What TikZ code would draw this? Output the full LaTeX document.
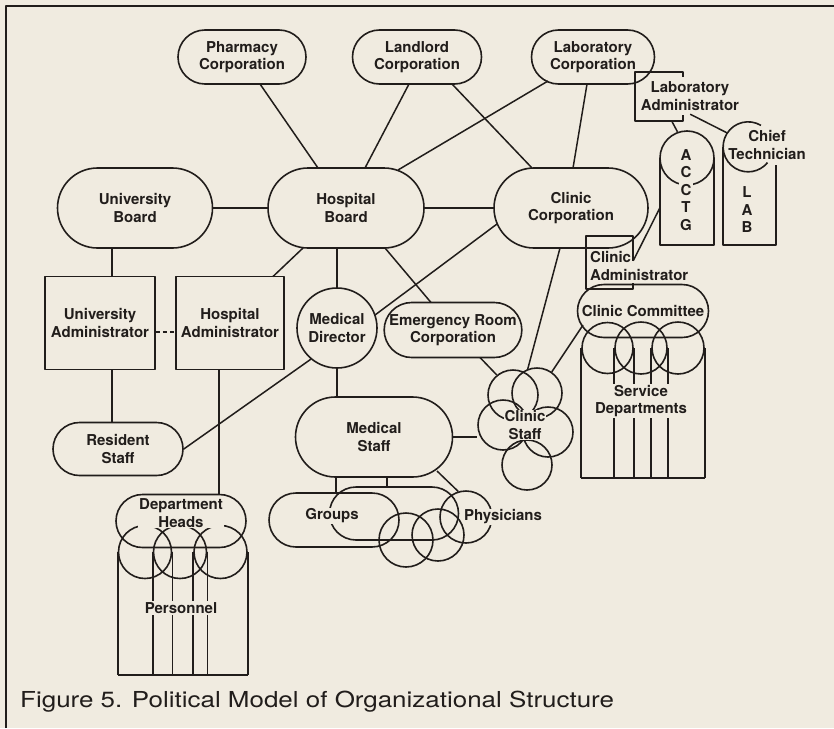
\documentclass[tikz,border=0pt]{standalone}
\usepackage{graphicx}
\usepackage{fontspec}
\setmainfont{TeX Gyre Heros}
\usetikzlibrary{shapes.misc,calc}
\definecolor{paper}{RGB}{240,235,224}
\definecolor{ink}{RGB}{33,29,27}
\begin{document}
\begin{tikzpicture}[x=1pt,y=-1pt,line join=round,
  every node/.style={font=\fontsize{15}{17.5}\selectfont\bfseries,text=ink},
  stad/.style={rounded rectangle,draw=ink,line width=1.6pt,inner sep=0pt,align=center},
  boxnode/.style={rectangle,draw=ink,line width=1.6pt,inner sep=0pt,align=center},
  ring/.style={circle,draw=ink,line width=1.6pt,inner sep=0pt},
  ghost/.style={inner sep=0pt,draw=none},
  knock/.style={fill=paper,inner sep=1pt,align=center},
  plain/.style={inner sep=1pt,align=center},
  link/.style={draw=ink,line width=1.5pt},
  wall/.style={draw=ink,line width=1.6pt}]

% paper and frame
\fill[paper] (0,0) rectangle (834,728);
\useasboundingbox (0,0) rectangle (834,728);
\draw[ink,line width=2.4pt] (6,728) -- (6,6) -- (834,6);

% corporations and boards
\node[stad,minimum width=128pt,minimum height=54pt] (ph) at (242,57) {Pharmacy\\Corporation};
\node[stad,minimum width=129pt,minimum height=54pt] (ll) at (417,57) {Landlord\\Corporation};
\node[stad,minimum width=123pt,minimum height=54pt] (lc) at (593,57) {Laboratory\\Corporation};
\node[stad,minimum width=155pt,minimum height=80pt] (ub) at (135,208) {University\\Board};
\node[stad,minimum width=156pt,minimum height=80pt] (hb) at (346,208) {Hospital\\Board};
\node[stad,minimum width=154pt,minimum height=80pt] (cc) at (571,208) {Clinic\\Corporation};

% administrators and staff
\node[boxnode,minimum width=110pt,minimum height=93pt] (ua) at (100,323) {University\\Administrator};
\node[boxnode,minimum width=108pt,minimum height=93pt] (ha) at (230,323) {Hospital\\Administrator};
\node[ring,minimum size=80pt,align=center] (md) at (337,328) {Medical\\Director};
\node[stad,minimum width=137pt,minimum height=55pt] (er) at (453,330) {Emergency Room\\Corporation};
\node[stad,minimum width=130pt,minimum height=53pt] (rs) at (118,449) {Resident\\Staff};
\node[stad,minimum width=157pt,minimum height=80pt] (ms) at (374,437) {Medical\\Staff};
\node[stad,minimum width=131pt,minimum height=53pt] (cm) at (643,311) {Clinic Committee};

% laboratory administrator (open box)
\node[ghost,minimum width=48pt,minimum height=49pt] (labox) at (659,96.5) {};
\draw[wall] ($(labox.north east)+(0,5)$) -- (labox.north east) -- (labox.north west)
  -- (labox.south west) -- (labox.south east) -- ($(labox.south east)+(0,-6)$);
\node[plain] (la) at (690,96) {Laboratory\\Administrator};

% clinic administrator (open box)
\node[ghost,minimum width=47pt,minimum height=53pt] (cabox) at (609.5,262.5) {};
\coordinate (caR) at ($(cabox.north east)+(0,25)$);
\draw[wall] (caR) -- (cabox.north east) -- (cabox.north west)
  -- (cabox.south west) -- (cabox.south east) -- ($(cabox.south east)+(0,-6)$);
\node[plain,align=left,anchor=west] (ca) at (589,266) {Clinic\\Administrator};

% accounting column
\node[ghost,minimum width=54pt,minimum height=87pt] (acctg) at (687,201.5) {};
\draw[wall] (acctg.north west) -- (acctg.south west) -- (acctg.south east) -- (acctg.north east);
\node[ring,minimum size=54pt] (acirc) at (687,158) {};

% laboratory column with chief technician
\node[ghost,minimum size=50pt,circle] (ctc) at (748,147) {};
\draw[wall] (ctc.59) arc[start angle=59,end angle=321,radius=25pt];
\draw[wall] (ctc.west) -- ($(ctc.west)+(0,98)$) -- ($(ctc.east)+(3,98)$) -- ($(ctc.east)+(3,18)$);
\node[plain] (ctl) at (767,145) {Chief\\Technician};
\node[plain] (labl) at (747,210) {L\\A\\B};

% service departments
\node[ring,minimum size=51pt] (sd1) at (607.5,348) {};
\node[ring,minimum size=52pt] (sd2) at (641,348) {};
\node[ring,minimum size=52pt] (sd3) at (678,348) {};
\foreach \c in {sd1,sd2,sd3}
  \draw[wall] (\c.west) -- ++(0,130) (\c.east) -- ++(0,130);
\draw[wall] ($(sd1.west)+(0,130)$) -- ($(sd3.east)+(0,130)$);

% department heads and personnel
\node[ring,minimum size=53pt] (dh1) at (145,552) {};
\node[ring,minimum size=53pt] (dh2) at (180,552) {};
\node[ring,minimum size=53pt] (dh3) at (220.5,552) {};
\foreach \c in {dh1,dh2,dh3}
  \draw[wall] (\c.west) -- ++(0,123) (\c.east) -- ++(0,123);
\draw[wall] ($(dh1.west)+(0,123)$) -- ($(dh3.east)+(0,123)$);
\node[stad,minimum width=130pt,minimum height=53pt] (dh) at (181,521) {};

% groups and physicians
\node[stad,minimum width=129pt,minimum height=53pt] (gr2) at (394,513.5) {};
\node[stad,minimum width=130pt,minimum height=54pt] (gr) at (334,520) {};
\node[ring,minimum size=54pt] (g1) at (406,540) {};
\node[ring,minimum size=52pt] (g2) at (438,535) {};
\node[ring,minimum size=52pt] (phc) at (466,517) {};

% clinic staff cluster
\node[ring,minimum size=50pt] (csa) at (513,395) {};
\node[ring,minimum size=50pt] (csb) at (537,393) {};
\node[ring,minimum size=50pt] (csc) at (503,425) {};
\node[ring,minimum size=50pt] (csd) at (548,432) {};
\node[ring,minimum size=50pt] (cse) at (527,465) {};

% connectors
\draw[link] ($(ph)+(18,27)$) -- ($(hb)+(-28,-40)$);
\draw[link] ($(ll)+(-8,27)$) -- ($(hb)+(19,-40)$);
\draw[link] ($(ll)+(35,27)$) -- ($(cc)+(-39,-40)$);
\draw[link] ($(lc)+(-45,24)$) -- ($(hb)+(52,-38)$);
\draw[link] ($(lc)+(-6,27)$) -- ($(cc)+(2,-40)$);
\draw[link] (ub.east) -- (hb.west);
\draw[link] (hb.east) -- (cc.west);
\draw[link] ($(ub)+(-23,40)$) -- ($(ua)+(12,-46.5)$);
\draw[link] ($(hb)+(-43,40)$) -- ($(ha)+(43,-46.5)$);
\draw[link,dash pattern=on 4pt off 3pt] ($(ua.east)+(0,9)$) -- ($(ha.west)+(0,9)$);
\draw[link] (md.north |- hb.south) -- (md.north);
\draw[link] ($(hb)+(39,40)$) -- ($(er)+(-22,-27.5)$);
\draw[link] ($(cc)+(-74,16)$) -- ($(md)+(38,-13)$);
\draw[link] (md.230) -- (rs.east);
\draw[link] ($(ua)+(12,46.5)$) -- ($(rs)+(-6,-26.5)$);
\draw[link] ($(ha)+(-11,46.5)$) -- ($(dh)+(38,-26.5)$);
\draw[link] (md.south) -- (md.south |- ms.north);
\draw[link] (ms.east) -- (ms.east -| csc.west);
\draw[link] ($(er)+(27,27.5)$) -- (csa.129);
\draw[link] ($(cc)+(-11,40)$) -- (csb.111);
\draw[link] (csb.55) -- ($(cm)+(-60,14)$);
\draw[link] ($(ms)+(-38,40)$) -- ($(gr)+(2,-27)$);
\draw[link] ($(ms)+(13,40)$) -- ($(gr2)+(-7,-26.5)$);
\draw[link] ($(ms)+(63,34)$) -- (phc.107);
\draw[link] (caR) -- ($(acctg.west)+(0,6.5)$);
\draw[link] ($(labox.south west)+(37,0)$) -- (acirc.110);
\draw[link] ($(labox.south east)+(7,-7)$) -- (ctc.146);

% labels laid over crossing outlines
\node[knock] (acl) at (686,190) {A\\C\\C\\T\\G};
\node[knock] (sdl) at (641,401) {Service\\Departments};
\node[knock] (dhl) at (181,513) {Department\\Heads};
\node[knock] (pel) at (181,608) {Personnel};
\node[knock] (grl) at (332,516) {Groups};
\node[knock] (phl) at (503,517) {Physicians};
\node[knock] (csl) at (525,425) {Clinic\\Staff};

% caption
\node[anchor=base west,inner sep=0pt,font=\fontsize{22}{24}\selectfont\mdseries] (cap) at (20,707)
  {\scalebox{1.18}[1]{Figure 5. Political Model of Organizational Structure}};
\end{tikzpicture}
\end{document}
